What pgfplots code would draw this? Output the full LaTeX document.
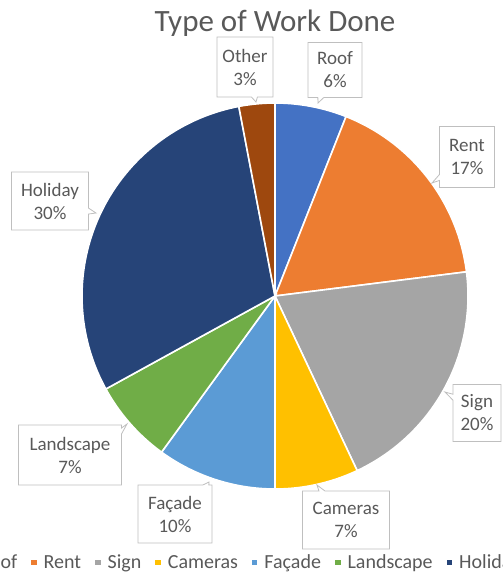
\documentclass[border=0pt]{standalone}
\usepackage{pgfplots}
\pgfplotsset{compat=1.18}
\usepackage{fontspec}
\setmainfont{Carlito}
\usetikzlibrary{shapes.callouts}
\definecolor{cRoof}{HTML}{4472C4}
\definecolor{cRent}{HTML}{ED7D31}
\definecolor{cSign}{HTML}{A5A5A5}
\definecolor{cCam}{HTML}{FFC000}
\definecolor{cFac}{HTML}{5B9BD5}
\definecolor{cLand}{HTML}{70AD47}
\definecolor{cHol}{HTML}{264478}
\definecolor{cOth}{HTML}{9E480E}
\definecolor{txt}{HTML}{595959}
\definecolor{bord}{HTML}{BFBFBF}
\tikzset{lab/.style={rectangle callout, draw=bord, fill=white, text=txt,
    font=\fontsize{19}{23}\selectfont, align=center, inner sep=0pt,
    line width=0.8pt, callout pointer width=6pt}}
% slice: start %, end % (cumulative), colour
\newcommand{\slice}[3]{%
  \pgfmathsetmacro\sa{3.6*#1}\pgfmathsetmacro\sb{3.6*#2}%
  \addplot[fill=#3, draw=white, line width=1.6pt, domain=\sa:\sb, samples=80]
    ({275+193*sin(x)},{296-193*cos(x)}) -- (axis cs:275,296) -- cycle;}
\begin{document}
\begin{tikzpicture}
\useasboundingbox (0,0) rectangle (503pt,579pt);
\begin{axis}[
  scale only axis, width=503pt, height=579pt,
  xmin=0, xmax=503, ymin=0, ymax=579, y dir=reverse,
  hide axis, clip=false,
  legend style={draw=none, fill=none, at={(0.5597,0.028)}, anchor=center,
    legend columns=-1, font=\fontsize{20}{24}\selectfont\color{txt},
    /tikz/every even column/.append style={column sep=12pt},
    /tikz/every odd column/.append style={column sep=5pt}},
  legend image code/.code={\fill[#1,draw=none] (0pt,-2.5pt) rectangle (5.5pt,3pt);},
]
% Percentages: Roof 6, Rent 17, Sign 20, Cameras 7, Facade 10, Landscape 7, Holiday 30, Other 3
\slice{0}{6}{cRoof}    \addlegendentry{Roof}
\slice{6}{23}{cRent}   \addlegendentry{Rent}
\slice{23}{43}{cSign}  \addlegendentry{Sign}
\slice{43}{50}{cCam}   \addlegendentry{Cameras}
\slice{50}{60}{cFac}   \addlegendentry{Façade}
\slice{60}{67}{cLand}  \addlegendentry{Landscape}
\slice{67}{97}{cHol}   \addlegendentry{Holiday}
\slice{97}{100}{cOth}  \addlegendentry{Other}

\node[font=\fontsize{31}{36}\selectfont, text=txt] at (axis cs:275,23) {Type of Work Done};

\node[lab, minimum width=56pt, minimum height=60pt, callout absolute pointer={(axis cs:256,102)}] at (axis cs:245,67) {Other\\3\%};
\node[lab, minimum width=54pt, minimum height=55pt, callout absolute pointer={(axis cs:318,103)}] at (axis cs:335,70) {Roof\\6\%};
\node[lab, minimum width=55pt, minimum height=61pt, callout absolute pointer={(axis cs:432,183)}] at (axis cs:467,157) {Rent\\17\%};
\node[lab, minimum width=48pt, minimum height=57pt, callout absolute pointer={(axis cs:445,392)}] at (axis cs:477,413) {Sign\\20\%};
\node[lab, minimum width=87pt, minimum height=58pt, callout absolute pointer={(axis cs:317,485)}] at (axis cs:346,520) {Cameras\\7\%};
\node[lab, minimum width=74pt, minimum height=58pt, callout absolute pointer={(axis cs:209,482)}] at (axis cs:175,514) {Façade\\10\%};
\node[lab, minimum width=103pt, minimum height=60pt, callout absolute pointer={(axis cs:127,424)}] at (axis cs:70,455) {Landscape\\7\%};
\node[lab, minimum width=77pt, minimum height=58pt, callout absolute pointer={(axis cs:96,213)}] at (axis cs:50,201) {Holiday\\30\%};
\end{axis}
\end{tikzpicture}
\end{document}
